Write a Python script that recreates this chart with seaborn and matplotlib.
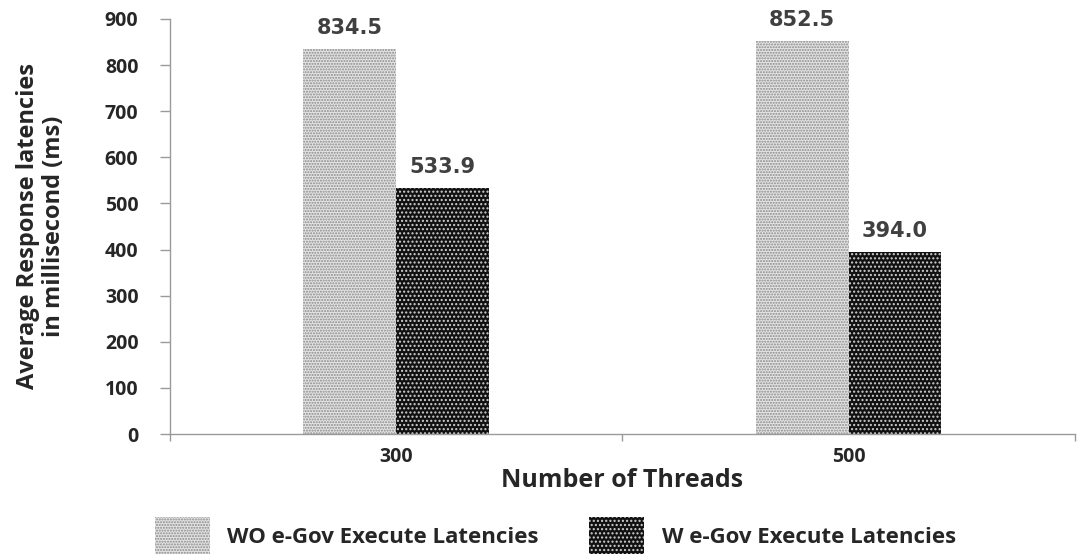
import matplotlib
matplotlib.use("Agg")
import matplotlib.pyplot as plt
from matplotlib.patches import Patch
import seaborn as sns
import pandas as pd

threads = ["300", "500"]
series = ["WO e-Gov Execute Latencies", "W e-Gov Execute Latencies"]
wo_latency = [834.5, 852.5]
w_latency = [533.9, 394.0]
y_ticks = [0, 100, 200, 300, 400, 500, 600, 700, 800, 900]

df = pd.DataFrame({
    "threads": threads * 2,
    "series": [series[0]] * 2 + [series[1]] * 2,
    "latency": wo_latency + w_latency,
})

sns.set_style("white")
plt.rcParams["font.family"] = ["Open Sans", "DejaVu Sans"]
plt.rcParams["hatch.linewidth"] = 1.0

styles = {
    series[0]: dict(face="#e4e4e4", hatch_color="#8a8a8a", hatch="......"),
    series[1]: dict(face="#111111", hatch_color="#d0d0d0", hatch="...."),
}

fig = plt.figure(figsize=(10.78, 5.55), dpi=100)
ax = fig.add_axes([0.1577, 0.218, 0.8393, 0.7478])

sns.barplot(data=df, x="threads", y="latency", hue="series", order=threads,
            hue_order=series, width=0.41, gap=0, legend=False, ax=ax,
            palette=[styles[s]["face"] for s in series], saturation=1)

for container, name in zip(ax.containers, series):
    st = styles[name]
    for bar in container:
        bar.set_facecolor(st["face"])
        bar.set_edgecolor(st["hatch_color"])
        bar.set_hatch(st["hatch"])
        bar.set_linewidth(0)
    ax.bar_label(container, fmt="%.1f", padding=8, color="#404040",
                 fontsize=15, fontweight="bold", family="DejaVu Sans")

ax.set_ylim(0, 900)
ax.set_xlim(-0.5, 1.5)
ax.set_yticks(y_ticks)
ax.set_yticklabels([str(v) for v in y_ticks], fontsize=14, fontweight="bold")
ax.set_xticks([0, 1])
ax.set_xticklabels(threads, fontsize=14, fontweight="bold")
ax.tick_params(axis="x", length=0, pad=9)
ax.tick_params(axis="y", length=7.2, width=1, color="#9a9a9a", pad=15.5,
               direction="out", left=True)

# category boundary ticks on the x axis
ax.set_xticks([-0.5, 0.5, 1.5], minor=True)
ax.tick_params(axis="x", which="minor", length=5, width=1, color="#9a9a9a",
               direction="out", bottom=True)

for side in ["top", "right"]:
    ax.spines[side].set_visible(False)
for side in ["left", "bottom"]:
    ax.spines[side].set_color("#9a9a9a")
    ax.spines[side].set_linewidth(1)

ax.set_xlabel("Number of Threads", fontsize=18, fontweight="bold")
ax.xaxis.set_label_coords(0.5, -0.082)
ax.set_ylabel("Average Response latencies\nin millisecond (ms)", fontsize=17,
              fontweight="bold", linespacing=1.1)
ax.yaxis.set_label_coords(-0.115, 0.5)

handles = [Patch(facecolor=styles[s]["face"], edgecolor=styles[s]["hatch_color"],
                 hatch=styles[s]["hatch"], linewidth=0, label=s) for s in series]
fig.legend(handles=handles, loc="lower left", bbox_to_anchor=(0.125, -0.035),
           ncol=2, frameon=False, prop=dict(weight="bold", size=16),
           handlelength=2.5, handleheight=2.2, handletextpad=0.77, columnspacing=2.25)

fig.savefig("out.png", dpi=100)
